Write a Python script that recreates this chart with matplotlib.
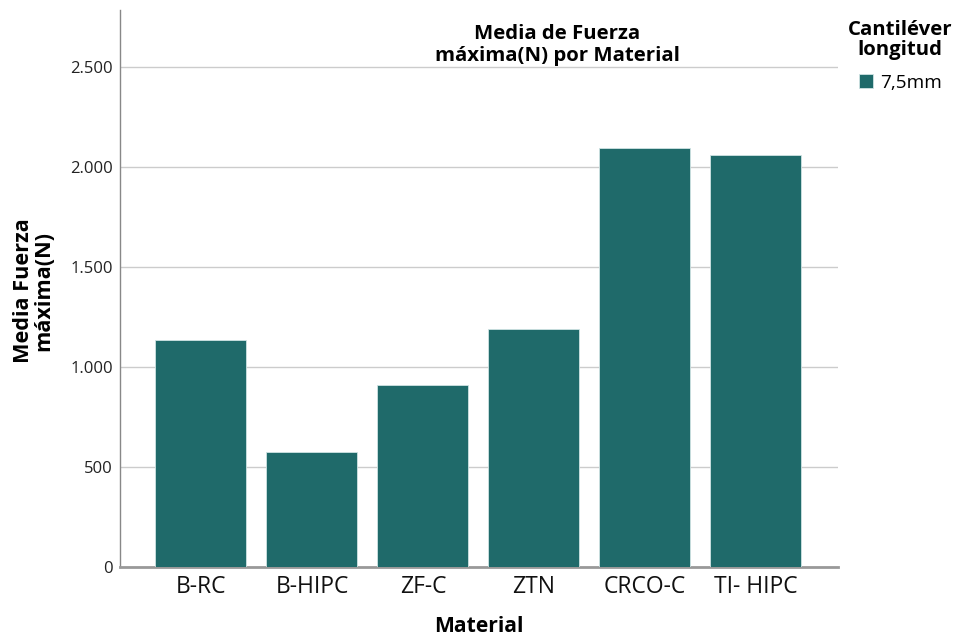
import matplotlib
matplotlib.use("Agg")
import matplotlib.pyplot as plt
from matplotlib.patches import Patch
from matplotlib.ticker import FuncFormatter

plt.rcParams['font.family'] = ['Open Sans', 'DejaVu Sans']

materials = ["B-RC", "B-HIPC", "ZF-C", "ZTN", "CRCO-C", "TI- HIPC"]
fuerza_media = [1135, 575, 911, 1190, 2097, 2058]
y_ticks = [0, 500, 1000, 1500, 2000, 2500]
series_label = "7,5mm"
bar_color = "#1f6a6a"

fig = plt.figure(figsize=(9.56, 6.39), dpi=100)
ax = fig.add_axes([0.1255, 0.1127, 0.751, 0.8717])

x = range(len(materials))
ax.bar(x, fuerza_media, width=0.82, color=bar_color, edgecolor="#cfe3e3",
       linewidth=0.6, zorder=3)

ax.set_xlim(-0.73, len(materials) - 1 + 0.74)
ax.set_ylim(0, 2785)
ax.set_yticks(y_ticks)
ax.yaxis.set_major_formatter(FuncFormatter(lambda v, _: f"{int(v):,}".replace(",", ".")))
ax.set_xticks(list(x))
ax.set_xticklabels(materials, fontsize=16.5)
ax.tick_params(axis="y", length=0, labelsize=12, pad=5, colors="#222222")
ax.tick_params(axis="x", length=0, pad=6, colors="#111111")

ax.grid(axis="y", color="#cccccc", linewidth=1.0, zorder=0)
for side in ("top", "right"):
    ax.spines[side].set_visible(False)
ax.spines["left"].set_color("#888888")
ax.spines["left"].set_linewidth(1.0)
ax.spines["bottom"].set_color("#999999")
ax.spines["bottom"].set_linewidth(2.0)

ax.set_xlabel("Material", fontsize=15.2, fontweight="bold")
ax.xaxis.set_label_coords(0.5, -60 / 557)
ax.xaxis.label.set_va("center")
ax.set_ylabel("Media Fuerza\nmáxima(N)", fontsize=15.6, fontweight="bold",
              linespacing=0.95)
ax.yaxis.set_label_coords(-86 / 718, 0.496)
ax.yaxis.label.set_va("center")

fig.text(557 / 956, 1 - 45 / 639, "Media de Fuerza\nmáxima(N) por Material",
         ha="center", va="center", fontsize=14.7, fontweight="bold",
         linespacing=1.15)

fig.text(900 / 956, 1 - 40 / 639, "Cantiléver\nlongitud", ha="center",
         va="center", fontsize=14.7, fontweight="bold", linespacing=0.95)
leg = fig.legend(handles=[Patch(facecolor=bar_color, edgecolor="#cfe3e3",
                                linewidth=0.6, label=series_label)],
                 loc="center left", bbox_to_anchor=(859 / 956, 1 - 83 / 639),
                 frameon=False, fontsize=13.7, handlelength=0.75, handleheight=0.75,
                 handletextpad=0.35, borderpad=0, borderaxespad=0)

fig.savefig("out.png", dpi=100)
